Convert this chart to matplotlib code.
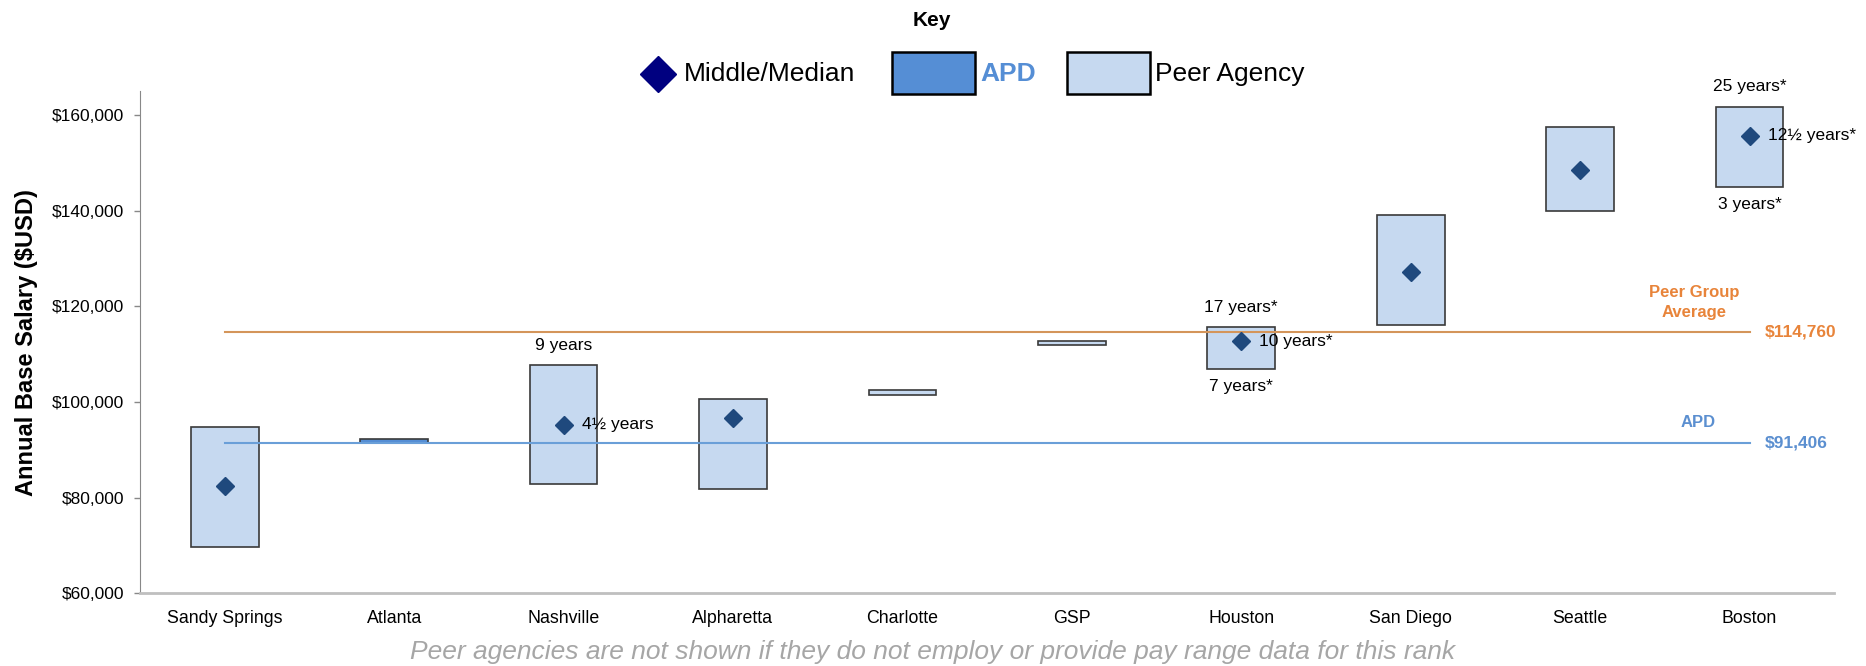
import matplotlib.pyplot as plt
from matplotlib.patches import Rectangle
from matplotlib.lines import Line2D

plt.rcParams['font.family'] = ['Liberation Sans', 'DejaVu Sans']

# salary ranges
categories = ["Sandy Springs", "Atlanta", "Nashville", "Alpharetta", "Charlotte",
              "GSP", "Houston", "San Diego", "Seattle", "Boston"]
range_min = [69800, 91406, 82900, 81800, 101500, 111850, 106900, 116200, 139900, 145000]
range_max = [94700, 92300, 107700, 100600, 102500, 112850, 115600, 139100, 157600, 161700]
median = [82400, None, 95300, 96700, None, None, 112700, 127200, 148600, 155700]
is_apd = [False, True, False, False, False, False, False, False, False, False]

peer_avg = 114760
apd_salary = 91406

# years-of-service notes: (category index, text, where)
note_cat = [2, 2, 6, 6, 6, 9, 9, 9]
note_text = ["9 years", "4½ years", "17 years*", "10 years*", "7 years*",
             "25 years*", "12½ years*", "3 years*"]
note_pos = ["top", "mid", "top", "mid", "bottom", "top", "mid", "bottom"]

peer_fill = "#C6D9F0"
apd_fill = "#558ED5"
diamond_col = "#1F497D"
orange = "#E8843A"
orange_line = "#D4955A"
blue_lab = "#5B8FD0"
blue_line = "#6A9FD8"

fig = plt.figure(figsize=(18.66, 6.66), dpi=100)
ax = fig.add_axes([0.075, 0.109, 0.908, 0.754])

x = list(range(len(categories)))
heights = [hi - lo for lo, hi in zip(range_min, range_max)]
colors = [apd_fill if a else peer_fill for a in is_apd]
ax.bar(x, heights, bottom=range_min, width=0.4, color=colors,
       edgecolor="#3A3A3A", linewidth=1.2, zorder=2)

mx = [i for i, m in zip(x, median) if m is not None]
my = [m for m in median if m is not None]
ax.plot(mx, my, linestyle="none", marker="D", markersize=8.8,
        color=diamond_col, zorder=4)

# reference lines
ax.plot([x[0], x[-1]], [peer_avg, peer_avg], color=orange_line, lw=1.5, zorder=3)
ax.plot([x[0], x[-1]], [apd_salary, apd_salary], color=blue_line, lw=1.5, zorder=3)

ax.annotate(f"${peer_avg:,.0f}", (x[-1], peer_avg), xytext=(11, 0),
            textcoords="offset points", ha="left", va="center",
            fontsize=12.5, fontweight="bold", color=orange)
ax.annotate("Peer Group\nAverage", (x[-1], peer_avg), xytext=(-40, 21),
            textcoords="offset points", ha="center", va="center",
            fontsize=12, fontweight="bold", color=orange, linespacing=1.4)
ax.annotate(f"${apd_salary:,.0f}", (x[-1], apd_salary), xytext=(11, 0),
            textcoords="offset points", ha="left", va="center",
            fontsize=12.5, fontweight="bold", color=blue_lab)
ax.annotate("APD", (x[-1], apd_salary), xytext=(-37, 15),
            textcoords="offset points", ha="center", va="center",
            fontsize=12, fontweight="bold", color=blue_lab)

for c, t, p in zip(note_cat, note_text, note_pos):
    if p == "top":
        ax.annotate(t, (c, range_max[c]), xytext=(0, 14.5), textcoords="offset points",
                    ha="center", va="center", fontsize=12.5)
    elif p == "bottom":
        ax.annotate(t, (c, range_min[c]), xytext=(0, -12.5), textcoords="offset points",
                    ha="center", va="center", fontsize=12.5)
    else:
        ax.annotate(t, (c, median[c]), xytext=(13, 0), textcoords="offset points",
                    ha="left", va="center", fontsize=12.5, zorder=5)

ax.set_xlim(-0.5, len(categories) - 0.5)
ax.set_ylim(60000, 165000)
ax.set_yticks(range(60000, 160001, 20000))
ax.yaxis.set_major_formatter(plt.FuncFormatter(lambda v, _: f"${v:,.0f}"))
ax.set_xticks(x)
ax.set_xticklabels(categories)
ax.tick_params(axis="x", length=0, pad=12, labelsize=12.8)
ax.tick_params(axis="y", length=4.5, width=1, color="#888888", pad=7, labelsize=12.5)
ax.set_ylabel("Annual Base Salary ($USD)", fontsize=17, fontweight="bold", labelpad=10)

for s in ["top", "right"]:
    ax.spines[s].set_visible(False)
ax.spines["left"].set_color("#888888")
ax.spines["bottom"].set_color("#BFBFBF")
ax.spines["bottom"].set_linewidth(2)

# key drawn above the plot
fig.text(0.4995, 0.9685, "Key", ha="center", va="center", fontsize=15, fontweight="bold")
fig.add_artist(Line2D([0.3526], [0.889], marker="D", markersize=18.3, color="#000080",
                      linestyle="none", transform=fig.transFigure))
fig.text(0.3666, 0.889, "Middle/Median", ha="left", va="center", fontsize=19)
fig.add_artist(Rectangle((0.478, 0.8589), 0.0445, 0.063, facecolor=apd_fill,
                         edgecolor="black", linewidth=1.8, transform=fig.transFigure))
fig.text(0.5252, 0.889, "APD", ha="left", va="center", fontsize=19,
         fontweight="bold", color=apd_fill)
fig.add_artist(Rectangle((0.5718, 0.8589), 0.0445, 0.063, facecolor=peer_fill,
                         edgecolor="black", linewidth=1.8, transform=fig.transFigure))
fig.text(0.619, 0.889, "Peer Agency", ha="left", va="center", fontsize=19)

fig.text(0.4995, 0.021,
         "Peer agencies are not shown if they do not employ or provide pay range data for this rank",
         ha="center", va="center", fontsize=19, style="italic", color="#A6A6A6")

fig.savefig("out.png", dpi=100)
plt.close(fig)
